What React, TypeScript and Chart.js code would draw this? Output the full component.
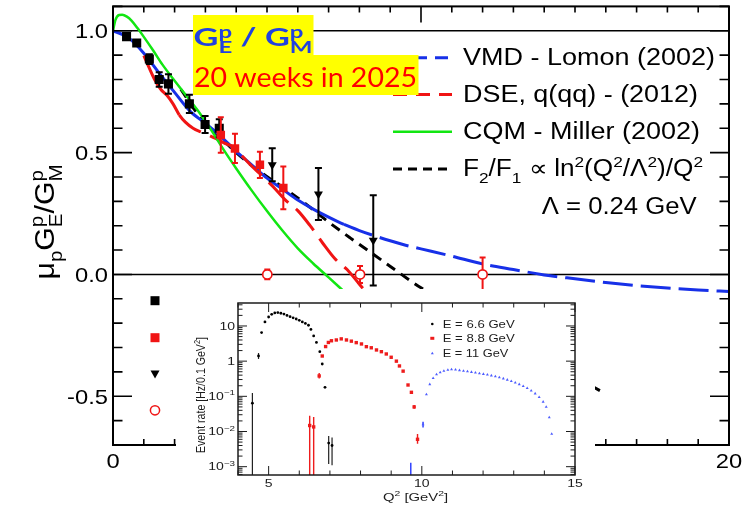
import React, { useEffect, useRef } from 'react';
import { Chart, registerables } from 'chart.js';

Chart.register(...registerables);

const SANS = '"Liberation Sans", Arial, Helvetica, sans-serif';
const BANNER_FONT = 'Lato, "Open Sans", sans-serif';
const BLUE = '#1730e8';
const RED = '#f01414';
const GREEN = '#12e612';

// ---------- main panel: mu_p GE/GM versus Q^2 ----------
const vmdQ2 = [0, 0.5, 1, 1.5, 2, 2.5, 3, 3.5, 4, 4.5, 5, 5.5, 6, 6.5, 7, 7.5, 8, 8.5, 9, 9.5, 10, 11, 12, 13, 14, 15, 16, 17, 18, 19, 20];
const vmdRatio = [1.0, 0.972, 0.908, 0.826, 0.747, 0.67, 0.62, 0.567, 0.505, 0.45, 0.395, 0.35, 0.305, 0.268, 0.235, 0.205, 0.18, 0.158, 0.138, 0.12, 0.105, 0.075, 0.043, 0.02, -0.002, -0.018, -0.033, -0.046, -0.056, -0.064, -0.07];

const dseQ2 = [1.0, 1.15, 1.35, 1.55, 1.75, 1.95, 2.15, 2.35, 2.6, 2.85, 3.1, 3.35, 3.6, 3.9, 4.2, 4.5, 4.8, 5.2, 5.6, 6.0, 6.4, 6.8, 7.2, 7.6, 8.0, 8.4];
const dseRatio = [0.898, 0.855, 0.8, 0.76, 0.735, 0.7, 0.655, 0.625, 0.6, 0.585, 0.572, 0.557, 0.54, 0.523, 0.485, 0.445, 0.41, 0.36, 0.305, 0.262, 0.2, 0.13, 0.065, 0.02, -0.04, -0.1];

const cqmQ2 = [0, 0.08, 0.2, 0.3, 0.45, 0.6, 0.8, 1.0, 1.3, 1.6, 2.0, 2.4, 2.8, 3.2, 3.6, 4.0, 4.5, 5.0, 5.5, 6.0, 6.5, 7.0, 7.5, 8.0];
const cqmRatio = [1.0, 1.045, 1.065, 1.066, 1.058, 1.042, 1.01, 0.975, 0.92, 0.862, 0.795, 0.73, 0.665, 0.59, 0.51, 0.435, 0.345, 0.26, 0.18, 0.107, 0.045, -0.012, -0.07, -0.128];

const logQ2 = [2.2, 2.8, 3.5, 4.2, 4.9, 5.6, 6.3, 7.0, 7.7, 8.45, 9.2, 10, 11, 12, 13, 14, 15, 16];
const logRatio = [0.76, 0.65, 0.56, 0.478, 0.41, 0.35, 0.285, 0.215, 0.15, 0.083, 0.015, -0.055, -0.13, -0.205, -0.28, -0.35, -0.42, -0.49];

const recoilQ2 = [0.44, 0.77, 1.18, 1.5, 1.8, 2.48, 2.99, 3.45];
const recoilRatio = [0.976, 0.95, 0.884, 0.8, 0.782, 0.7, 0.615, 0.6];
const recoilErr = [0.008, 0.01, 0.02, 0.03, 0.04, 0.037, 0.035, 0.037];

const newQ2 = [3.5, 3.96, 4.77, 5.53];
const newRatio = [0.572, 0.517, 0.45, 0.355];
const newErr = [0.073, 0.06, 0.054, 0.088];

const triQ2 = [5.17, 6.67, 8.45];
const triRatio = [0.45, 0.33, 0.14];
const triErr = [0.068, 0.107, 0.185];

const openQ2 = [5.01, 8.02, 12.0];
const openRatio = [0, 0, 0];
const openErr = [0.02, 0.035, 0.07];

const yTickValues = [-0.5, 0, 0.5, 1];
const yTickText = ['-0.5', '0.0', '0.5', '1.0'];
const xTickValues = [0, 10, 20];
const xTickText = ['0', '10', '20'];
const refLines = [0, 1];

const curveNames = ['VMD - Lomon (2002)', 'DSE, q(qq) - (2012)', 'CQM - Miller (2002)'];
const lambdaNote = 'Λ = 0.24 GeV';
const bannerNote = '20 weeks in 2025';

// ---------- inset: event rate versus Q^2 ----------
const e66Q2 = [4.47, 4.67, 4.77, 4.88, 5.0, 5.1, 5.2, 5.3, 5.4, 5.5, 5.6, 5.7, 5.8, 5.9, 6.0, 6.1, 6.2, 6.3, 6.38, 6.47, 6.56, 6.67, 6.75, 6.84, 6.96, 7.07];
const e66Rate = [0.064, 1.4, 6.5, 13, 18, 21.5, 23.5, 24, 23, 21.8, 20, 18.4, 17, 15.8, 14.5, 13, 11.8, 10.5, 8, 5.2, 3.4, 1.86, 0.83, 0.18, 0.0047, 0.004];
const e66ErrQ2 = [4.47, 4.67, 6.96, 7.07];
const e66ErrLo = [1e-5, 1.15, 0.0012, 0.0011];
const e66ErrHi = [0.125, 1.7, 0.0075, 0.0068];

const e88Q2 = [6.34, 6.47, 6.65, 6.75, 6.86, 6.95, 7.05, 7.21, 7.37, 7.54, 7.7, 7.86, 8.03, 8.19, 8.35, 8.52, 8.68, 8.84, 9.0, 9.17, 9.27, 9.39, 9.55, 9.66, 9.75, 9.86];
const e88Rate = [0.0148, 0.0135, 0.38, 1.4, 2.6, 3.4, 3.8, 4.0, 4.3, 4.0, 3.7, 3.36, 3.08, 2.58, 2.4, 2.08, 1.86, 1.6, 1.29, 1.0, 0.73, 0.52, 0.21, 0.13, 0.05, 0.006];
const e88ErrQ2 = [6.34, 6.47, 6.65, 9.75, 9.86];
const e88ErrLo = [1e-5, 1e-5, 0.32, 0.044, 0.0045];
const e88ErrHi = [0.028, 0.026, 0.46, 0.057, 0.0085];

const e11Q2 = [9.64, 10.04, 10.15, 10.26, 10.37, 10.48, 10.6, 10.72, 10.85, 10.97, 11.1, 11.23, 11.36, 11.49, 11.62, 11.75, 11.88, 12.01, 12.14, 12.27, 12.4, 12.53, 12.66, 12.79, 12.92, 13.05, 13.18, 13.31, 13.44, 13.57, 13.7, 13.83, 13.96, 14.06, 14.16, 14.24];
const e11Rate = [0.0002, 0.016, 0.114, 0.22, 0.33, 0.42, 0.48, 0.53, 0.56, 0.58, 0.57, 0.55, 0.53, 0.51, 0.49, 0.47, 0.45, 0.43, 0.41, 0.39, 0.37, 0.345, 0.32, 0.295, 0.27, 0.245, 0.22, 0.195, 0.17, 0.145, 0.12, 0.095, 0.07, 0.05, 0.025, 0.0085];
const e11ErrQ2 = [9.64, 10.04];
const e11ErrLo = [1e-5, 0.013];
const e11ErrHi = [0.0013, 0.019];

const insetYTickValues = [10, 1, 0.1, 0.01, 0.001];
const insetYTickText = ['10', '1', '10^−1', '10^−2', '10^−3'];
const insetXTickValues = [5, 10, 15];
const insetXTickText = ['5', '10', '15'];
const beamLabels = ['E = 6.6 GeV', 'E = 8.8 GeV', 'E = 11 GeV'];

const pts = (xs: number[], ys: number[]) => xs.map((x, i) => ({ x, y: ys[i] }));

// ---------- rich text with sub/superscripts ----------
type Piece = { t: string; sub?: string; sup?: string };
type RichOpts = {
  size: number;
  family: string;
  color: string;
  weight?: string;
  align?: 'left' | 'right' | 'center';
  width?: number;
  hs?: number;
  vs?: number;
  ss?: number;
  subDy?: number;
  supDy?: number;
};

function richWidth(ctx: CanvasRenderingContext2D, pieces: Piece[], o: RichOpts) {
  const weight = o.weight || 'normal';
  const ss = o.ss ?? 0.65;
  let w = 0;
  for (const p of pieces) {
    ctx.font = `${weight} ${o.size}px ${o.family}`;
    w += ctx.measureText(p.t).width;
    ctx.font = `${weight} ${o.size * ss}px ${o.family}`;
    const a = p.sub ? ctx.measureText(p.sub).width : 0;
    const b = p.sup ? ctx.measureText(p.sup).width : 0;
    w += Math.max(a, b);
  }
  return w;
}

function drawRich(ctx: CanvasRenderingContext2D, pieces: Piece[], x: number, y: number, o: RichOpts) {
  const weight = o.weight || 'normal';
  const ss = o.ss ?? 0.65;
  const subDy = o.subDy ?? 0.3;
  const supDy = o.supDy ?? -0.42;
  const nat = richWidth(ctx, pieces, o);
  const hs = o.width ? o.width / nat : o.hs ?? 1;
  const w = nat * hs;
  const x0 = o.align === 'right' ? x - w : o.align === 'center' ? x - w / 2 : x;
  ctx.save();
  ctx.translate(x0, y);
  ctx.scale(hs, o.vs ?? 1);
  ctx.fillStyle = o.color;
  ctx.textAlign = 'left';
  ctx.textBaseline = 'alphabetic';
  let cx = 0;
  for (const p of pieces) {
    ctx.font = `${weight} ${o.size}px ${o.family}`;
    ctx.fillText(p.t, cx, 0);
    cx += ctx.measureText(p.t).width;
    ctx.font = `${weight} ${o.size * ss}px ${o.family}`;
    let adv = 0;
    if (p.sub) {
      ctx.fillText(p.sub, cx, subDy * o.size);
      adv = Math.max(adv, ctx.measureText(p.sub).width);
    }
    if (p.sup) {
      ctx.fillText(p.sup, cx, supDy * o.size);
      adv = Math.max(adv, ctx.measureText(p.sup).width);
    }
    cx += adv;
  }
  ctx.restore();
}

const powerPieces = (s: string): Piece[] => {
  const [b, e] = s.split('^');
  return [e ? { t: b, sup: e } : { t: b }];
};

// ---------- decorations of the main panel ----------
const mainDecor = {
  id: 'mainDecor',
  beforeDatasetsDraw(chart: any) {
    const { ctx, chartArea: a } = chart;
    const ys = chart.scales.y;
    ctx.save();
    ctx.strokeStyle = '#000';
    ctx.lineWidth = 1.6;
    ctx.beginPath();
    for (const v of refLines) {
      const py = ys.getPixelForValue(v);
      ctx.moveTo(a.left, py);
      ctx.lineTo(a.right, py);
    }
    ctx.stroke();
    ctx.restore();
  },
  beforeDatasetDraw(chart: any, args: any) {
    const ds = chart.data.datasets[args.index];
    if (!ds.errs) return;
    const { ctx } = chart;
    const xs = chart.scales.x;
    const ys = chart.scales.y;
    ctx.save();
    ctx.strokeStyle = ds.errColor;
    ctx.lineWidth = 2;
    ctx.beginPath();
    ds.data.forEach((p: any, i: number) => {
      const px = xs.getPixelForValue(p.x);
      const top = ys.getPixelForValue(p.y + ds.errs[i]);
      const bot = ys.getPixelForValue(p.y - ds.errs[i]);
      const c = ds.capW / 2;
      ctx.moveTo(px, top);
      ctx.lineTo(px, bot);
      ctx.moveTo(px - c, top);
      ctx.lineTo(px + c, top);
      ctx.moveTo(px - c, bot);
      ctx.lineTo(px + c, bot);
    });
    ctx.stroke();
    ctx.restore();
  },
  afterDatasetsDraw(chart: any) {
    const { ctx, chartArea: a } = chart;
    const xs = chart.scales.x;
    const ys = chart.scales.y;
    ctx.save();

    // frame and inward ticks
    ctx.strokeStyle = '#000';
    ctx.lineWidth = 2;
    ctx.strokeRect(a.left, a.top, a.right - a.left, a.bottom - a.top);
    ctx.lineWidth = 1.6;
    ctx.beginPath();
    for (let k = -7; k <= 11; k++) {
      const py = ys.getPixelForValue(k / 10);
      const len = k % 5 === 0 ? 19 : 9.5;
      ctx.moveTo(a.left, py);
      ctx.lineTo(a.left + len, py);
      ctx.moveTo(a.right, py);
      ctx.lineTo(a.right - len, py);
    }
    for (let k = 0; k <= 20; k++) {
      const px = xs.getPixelForValue(k);
      const len = k % 10 === 0 ? 16 : 6;
      ctx.moveTo(px, a.bottom);
      ctx.lineTo(px, a.bottom - len);
      ctx.moveTo(px, a.top);
      ctx.lineTo(px, a.top + len);
    }
    ctx.stroke();

    // tick labels
    yTickValues.forEach((v, i) => {
      drawRich(ctx, [{ t: yTickText[i] }], a.left - 5, ys.getPixelForValue(v) + 7.5, {
        size: 21, family: SANS, color: '#000', align: 'right', hs: 1.13,
      });
    });
    xTickValues.forEach((v, i) => {
      drawRich(ctx, [{ t: xTickText[i] }], xs.getPixelForValue(v), a.bottom + 23, {
        size: 21, family: SANS, color: '#000', align: 'center', hs: 1.13,
      });
    });

    // axis title
    ctx.save();
    ctx.translate(54, 222);
    ctx.rotate(-Math.PI / 2);
    drawRich(ctx, [{ t: 'μ', sub: 'p' }, { t: 'G', sub: 'E', sup: 'p' }, { t: '/G', sub: 'M', sup: 'p' }], 0, 0, {
      size: 28, family: SANS, color: '#000', align: 'center', width: 115, ss: 0.68, subDy: 0.3, supDy: -0.4,
    });
    ctx.restore();

    // marker keys at the lower left
    ctx.fillStyle = '#000';
    ctx.fillRect(150.5, 296.2, 9, 9);
    ctx.fillStyle = RED;
    ctx.fillRect(150.5, 333.2, 9, 9);
    ctx.fillStyle = '#000';
    ctx.beginPath();
    ctx.moveTo(150.5, 370.5);
    ctx.lineTo(159.5, 370.5);
    ctx.lineTo(155, 378.5);
    ctx.closePath();
    ctx.fill();
    ctx.strokeStyle = RED;
    ctx.lineWidth = 1.5;
    ctx.beginPath();
    ctx.arc(155, 410.3, 4.6, 0, Math.PI * 2);
    ctx.stroke();

    // curve legend
    const rowBase = [65, 101.7, 139, 176.3, 214];
    const keyStyles = [
      { c: BLUE, d: [13, 8], w: 3 },
      { c: RED, d: [14, 9], w: 3 },
      { c: GREEN, d: [], w: 2.5 },
      { c: '#000', d: [9, 6], w: 3 },
    ];
    keyStyles.forEach((s, i) => {
      const py = rowBase[i] - 7.3;
      ctx.strokeStyle = s.c;
      ctx.lineWidth = s.w;
      ctx.setLineDash(s.d);
      ctx.beginPath();
      ctx.moveTo(393, py);
      ctx.lineTo(452, py);
      ctx.stroke();
    });
    ctx.setLineDash([]);
    const nameWidths = [252, 235, 237];
    curveNames.forEach((n, i) => {
      drawRich(ctx, [{ t: n }], 463, rowBase[i], { size: 23, family: SANS, color: '#000', width: nameWidths[i] });
    });
    drawRich(
      ctx,
      [
        { t: 'F', sub: '2' },
        { t: '/F', sub: '1' },
        { t: ' ∝ ln', sup: '2' },
        { t: '(Q', sup: '2' },
        { t: '/Λ', sup: '2' },
        { t: ')/Q', sup: '2' },
      ],
      463,
      rowBase[3],
      { size: 23, family: SANS, color: '#000', width: 240, ss: 0.66, subDy: 0.3, supDy: -0.42 }
    );
    drawRich(ctx, [{ t: lambdaNote }], 541.7, rowBase[4], { size: 23, family: SANS, color: '#000', width: 155 });

    // highlighted banner
    ctx.fillStyle = '#ffff00';
    ctx.fillRect(193, 15, 120.5, 40.5);
    ctx.fillRect(193, 55, 225.5, 40);
    drawRich(ctx, [{ t: 'G', sub: 'E', sup: 'p' }, { t: ' / G', sub: 'M', sup: 'p' }], 193.5, 46, {
      size: 25, family: BANNER_FONT, weight: 'bold', color: '#2142e0', width: 119, ss: 0.7, subDy: 0.28, supDy: -0.33,
    });
    drawRich(ctx, [{ t: bannerNote }], 194, 87.3, { size: 26, family: BANNER_FONT, color: '#ff0000', width: 223 });

    ctx.restore();
  },
};

// ---------- decorations of the inset ----------
const insetDecor = {
  id: 'insetDecor',
  beforeDraw(chart: any) {
    const { ctx, width, height } = chart;
    ctx.save();
    ctx.fillStyle = '#fff';
    ctx.fillRect(0, 0, width, height);
    ctx.restore();
  },
  beforeDatasetDraw(chart: any, args: any) {
    const ds = chart.data.datasets[args.index];
    if (!ds.errX) return;
    const { ctx, chartArea: a } = chart;
    const xs = chart.scales.x;
    const ys = chart.scales.y;
    ctx.save();
    ctx.beginPath();
    ctx.rect(a.left, a.top, a.right - a.left, a.bottom - a.top);
    ctx.clip();
    ctx.strokeStyle = ds.errColor;
    ctx.lineWidth = ds.errWidth;
    ctx.beginPath();
    ds.errX.forEach((q: number, i: number) => {
      const px = xs.getPixelForValue(q);
      ctx.moveTo(px, ys.getPixelForValue(ds.errHi[i]));
      ctx.lineTo(px, ys.getPixelForValue(ds.errLo[i]));
    });
    ctx.stroke();
    ctx.restore();
  },
  afterDatasetsDraw(chart: any) {
    const { ctx, chartArea: a } = chart;
    const xs = chart.scales.x;
    const ys = chart.scales.y;
    const ink = '#1c1c1c';
    ctx.save();
    ctx.strokeStyle = ink;
    ctx.lineWidth = 1.5;
    ctx.strokeRect(a.left, a.top, a.right - a.left, a.bottom - a.top);
    ctx.lineWidth = 1;
    ctx.beginPath();
    for (let d = -4; d <= 1; d++) {
      for (let m = 1; m <= 9; m++) {
        const v = m * Math.pow(10, d);
        const py = ys.getPixelForValue(v);
        if (py < a.top || py > a.bottom) continue;
        const len = m === 1 ? 9 : 4.5;
        ctx.moveTo(a.left, py);
        ctx.lineTo(a.left + len, py);
        ctx.moveTo(a.right, py);
        ctx.lineTo(a.right - len, py);
      }
    }
    for (let q = 4; q <= 15; q++) {
      const px = xs.getPixelForValue(q);
      const len = q % 5 === 0 ? 9 : 4.5;
      ctx.moveTo(px, a.bottom);
      ctx.lineTo(px, a.bottom - len);
      ctx.moveTo(px, a.top);
      ctx.lineTo(px, a.top + len);
    }
    ctx.stroke();

    insetYTickValues.forEach((v, i) => {
      drawRich(ctx, powerPieces(insetYTickText[i]), a.left - 3, ys.getPixelForValue(v) + 3.6, {
        size: 10, family: SANS, color: ink, align: 'right', hs: 1.4, ss: 0.7, supDy: -0.45,
      });
    });
    insetXTickValues.forEach((v, i) => {
      drawRich(ctx, [{ t: insetXTickText[i] }], xs.getPixelForValue(v), a.bottom + 12, {
        size: 10, family: SANS, color: ink, align: 'center', hs: 1.4,
      });
    });
    drawRich(ctx, [{ t: 'Q', sup: '2' }, { t: ' [GeV', sup: '2' }, { t: ']' }], 239.5, 212, {
      size: 11, family: SANS, color: ink, align: 'center', width: 65, ss: 0.7,
    });
    ctx.save();
    ctx.translate(29, 106);
    ctx.rotate(-Math.PI / 2);
    drawRich(ctx, [{ t: 'Event rate [Hz/0.1 GeV', sup: '2' }, { t: ']' }], 0, 0, {
      size: 10, family: SANS, color: ink, align: 'center', width: 116, vs: 1.3, ss: 0.7,
    });
    ctx.restore();

    // beam energy legend
    const rows = [35, 49.3, 64.3];
    const widths = [72, 72, 65.6];
    ctx.fillStyle = '#000';
    ctx.beginPath();
    ctx.arc(256.3, rows[0], 1.3, 0, Math.PI * 2);
    ctx.fill();
    ctx.fillStyle = '#ee1c1c';
    ctx.fillRect(254.3, rows[1] - 1.5, 4, 3);
    ctx.fillStyle = '#4c5cff';
    ctx.beginPath();
    ctx.moveTo(256.3, rows[2] - 1.6);
    ctx.lineTo(257.8, rows[2] + 1);
    ctx.lineTo(254.8, rows[2] + 1);
    ctx.closePath();
    ctx.fill();
    beamLabels.forEach((t, i) => {
      drawRich(ctx, [{ t }], 266.7, rows[i] + 3.6, { size: 10, family: SANS, color: ink, width: widths[i] });
    });
    ctx.restore();
  },
};

export default function App() {
  const mainRef = useRef<HTMLCanvasElement>(null);
  const insetRef = useRef<HTMLCanvasElement>(null);

  useEffect(() => {
    const curve = (q: number[], r: number[], color: string, width: number, extra: any = {}) => ({
      data: pts(q, r),
      showLine: true,
      borderColor: color,
      borderWidth: width,
      pointRadius: 0,
      cubicInterpolationMode: 'monotone',
      fill: false,
      ...extra,
    });

    const main = new Chart(mainRef.current as HTMLCanvasElement, {
      type: 'scatter',
      data: {
        datasets: [
          {
            data: pts(openQ2, openRatio),
            pointStyle: 'circle',
            pointRadius: 4.6,
            backgroundColor: '#fff',
            borderColor: RED,
            borderWidth: 1.6,
            errs: openErr,
            errColor: RED,
            capW: 6,
          },
          {
            data: pts(triQ2, triRatio),
            pointStyle: 'triangle',
            rotation: 180,
            pointRadius: 5.2,
            backgroundColor: '#000',
            borderWidth: 0,
            errs: triErr,
            errColor: '#000',
            capW: 7,
          },
          {
            data: pts(newQ2, newRatio),
            pointStyle: 'rect',
            pointRadius: 6,
            backgroundColor: RED,
            borderWidth: 0,
            errs: newErr,
            errColor: RED,
            capW: 6,
          },
          {
            data: pts(recoilQ2, recoilRatio),
            pointStyle: 'rect',
            pointRadius: 6.4,
            backgroundColor: '#000',
            borderWidth: 0,
            errs: recoilErr,
            errColor: '#000',
            capW: 7,
          },
          curve(cqmQ2, cqmRatio, GREEN, 2.5),
          curve(dseQ2, dseRatio, RED, 3, {
            segment: { borderDash: (c: any) => (c.p0.parsed.x >= 2.15 ? [28, 10] : undefined) },
          }),
          curve(vmdQ2, vmdRatio, BLUE, 3, {
            segment: { borderDash: (c: any) => (c.p0.parsed.x >= 7.5 ? [30, 8] : undefined) },
          }),
          curve(logQ2, logRatio, '#000', 3, { borderDash: [10, 7] }),
        ],
      } as any,
      options: {
        responsive: false,
        animation: false,
        events: [],
        layout: { padding: { left: 113, right: 26, top: 4, bottom: 66 } },
        scales: {
          x: { type: 'linear', min: 0, max: 20, display: false },
          y: { type: 'linear', min: -0.7, max: 1.1, display: false },
        },
        plugins: { legend: { display: false }, tooltip: { enabled: false } },
      },
      plugins: [mainDecor],
    } as any);

    const inset = new Chart(insetRef.current as HTMLCanvasElement, {
      type: 'scatter',
      data: {
        datasets: [
          {
            data: pts(e66Q2, e66Rate),
            pointStyle: 'circle',
            pointRadius: 1.4,
            backgroundColor: '#000',
            borderWidth: 0,
            errX: e66ErrQ2,
            errLo: e66ErrLo,
            errHi: e66ErrHi,
            errColor: '#222',
            errWidth: 1.2,
          },
          {
            data: pts(e88Q2, e88Rate),
            pointStyle: 'rect',
            pointRadius: 2.4,
            backgroundColor: '#ee1c1c',
            borderWidth: 0,
            errX: e88ErrQ2,
            errLo: e88ErrLo,
            errHi: e88ErrHi,
            errColor: '#ee1c1c',
            errWidth: 1.4,
          },
          {
            data: pts(e11Q2, e11Rate),
            pointStyle: 'triangle',
            pointRadius: 1.7,
            backgroundColor: '#4c5cff',
            borderWidth: 0,
            errX: e11ErrQ2,
            errLo: e11ErrLo,
            errHi: e11ErrHi,
            errColor: '#2336ff',
            errWidth: 1.4,
          },
        ],
      } as any,
      options: {
        responsive: false,
        animation: false,
        events: [],
        layout: { padding: { left: 62, right: 20, top: 14, bottom: 36 } },
        scales: {
          x: { type: 'linear', min: 4, max: 15, display: false },
          y: { type: 'logarithmic', min: 5.8e-4, max: 45, display: false },
        },
        plugins: { legend: { display: false }, tooltip: { enabled: false } },
      },
      plugins: [insetDecor],
    } as any);

    return () => {
      main.destroy();
      inset.destroy();
    };
  }, []);

  return (
    <div style={{ position: 'fixed', left: 0, top: 0, width: 755, height: 511, background: '#fff', overflow: 'hidden' }}>
      <canvas
        ref={mainRef}
        width={755}
        height={511}
        style={{ position: 'absolute', left: 0, top: 0, width: 755, height: 511 }}
      />
      <canvas
        ref={insetRef}
        width={419}
        height={222}
        style={{ position: 'absolute', left: 176, top: 289, width: 419, height: 222, filter: 'blur(0.4px)' }}
      />
    </div>
  );
}
